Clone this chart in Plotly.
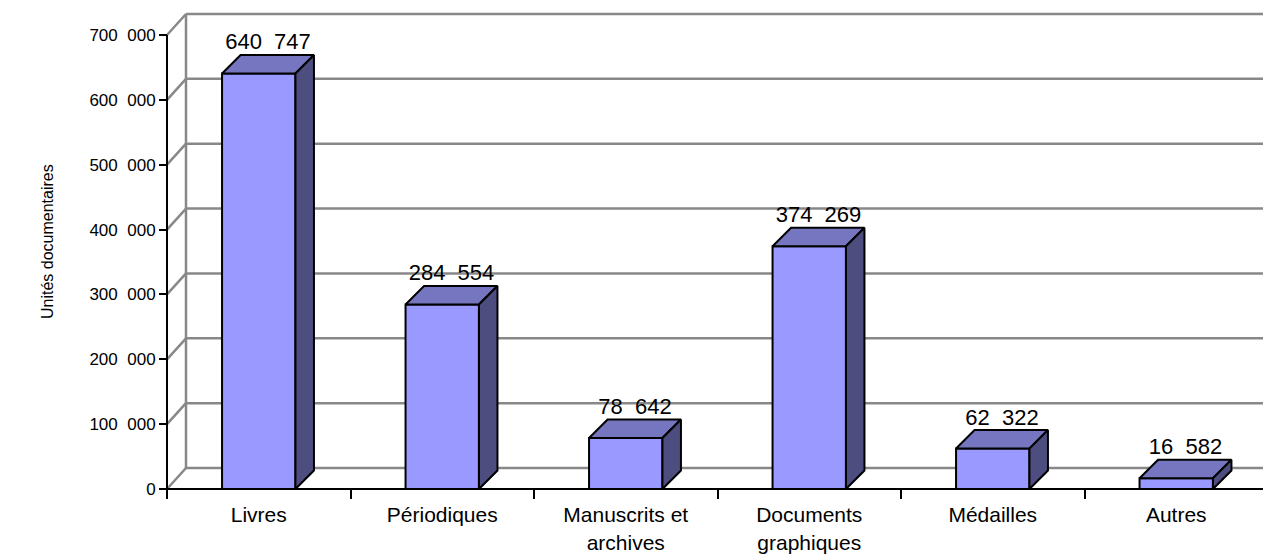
import plotly.graph_objects as go

# ---------------- data ----------------
categories = ["Livres", "Périodiques", "Manuscrits et archives",
              "Documents graphiques", "Médailles", "Autres"]
values = [640747, 284554, 78642, 374269, 62322, 16582]
y_ticks = [0, 100000, 200000, 300000, 400000, 500000, 600000, 700000]
y_title = "Unités documentaires"

# ---------------- styling / geometry constants ----------------
W, H = 1271, 557
PAGE_OFF = 8             # default body margin of the page
FONT = "Liberation Sans, Arial, Helvetica, sans-serif"
FRONT = "#9999FF"
TOP = "#7676C0"
SIDE = "#4D4D80"
GRID = "#888888"

X_AXIS_PX = 167 - PAGE_OFF   # pixel of front value axis
UNIT_PX = 183.5              # pixels per category
Y_ZERO_PX = 489 - PAGE_OFF   # pixel of value 0 on front plane
Y_SCALE = 454 / 700000       # pixels per unit value

PLOT_L, PLOT_R, PLOT_T, PLOT_B = 140, W, 0, 494

WALL_DX = 19 / UNIT_PX
WALL_DY = 21 / Y_SCALE
BAR_DX = 18.5 / UNIT_PX
BAR_DY = 18.5 / Y_SCALE
BAR_W = 0.4

x_min = -0.5 - (X_AXIS_PX - PLOT_L) / UNIT_PX
x_max = -0.5 + (PLOT_R - X_AXIS_PX) / UNIT_PX
y_min = -(PLOT_B - Y_ZERO_PX) / Y_SCALE
y_max = (Y_ZERO_PX - PLOT_T) / Y_SCALE


def fmt(v):
    return f"{v:,}".replace(",", "\u00a0\u00a0")


def wrap(s):
    parts = s.split(" ")
    if len(parts) > 1 and len(s) > 12:
        return " ".join(parts[:-1]) + "<br>" + parts[-1]
    return s


n = len(categories)
left_edge, right_edge = -0.5, n - 0.5
top_val = y_ticks[-1]

fig = go.Figure()


def lines(xs, ys, color, width):
    fig.add_trace(go.Scatter(x=xs, y=ys, mode="lines",
                             line=dict(color=color, width=width),
                             hoverinfo="skip", showlegend=False))


# back wall gridlines
gx, gy = [], []
for t in y_ticks:
    gx += [left_edge + WALL_DX, x_max + 1, None]
    gy += [t + WALL_DY, t + WALL_DY, None]
# side wall diagonals and vertical edge
for t in y_ticks:
    gx += [left_edge, left_edge + WALL_DX, None]
    gy += [t, t + WALL_DY, None]
gx += [left_edge + WALL_DX, left_edge + WALL_DX, None]
gy += [WALL_DY, top_val + WALL_DY, None]
lines(gx, gy, GRID, 2.5)

# front axes
lines([left_edge, left_edge, None, left_edge, right_edge, right_edge + WALL_DX],
      [top_val, 0, None, 0, 0, WALL_DY], "black", 2)

# bars
for i, v in enumerate(values):
    x0, x1 = i - BAR_W / 2, i + BAR_W / 2
    polys = [
        ([x0, x1, x1, x0, x0], [0, 0, v, v, 0], FRONT),
        ([x0, x0 + BAR_DX, x1 + BAR_DX, x1, x0], [v, v + BAR_DY, v + BAR_DY, v, v], TOP),
        ([x1, x1 + BAR_DX, x1 + BAR_DX, x1, x1], [0, BAR_DY, v + BAR_DY, v, 0], SIDE),
    ]
    for px, py, col in polys:
        fig.add_trace(go.Scatter(x=px, y=py, mode="lines", fill="toself",
                                 fillcolor=col,
                                 line=dict(color="black", width=2),
                                 hoverinfo="skip", showlegend=False))

# data labels
fig.add_trace(go.Scatter(
    x=[i + BAR_DX / 2 for i in range(n)],
    y=[v + BAR_DY for v in values],
    mode="text", text=[fmt(v) for v in values],
    textposition="top center",
    textfont=dict(family=FONT, size=22, color="black"),
    cliponaxis=False, hoverinfo="skip", showlegend=False))

fig.update_layout(
    width=W, height=H,
    margin=dict(l=0, r=0, t=0, b=0, autoexpand=False),
    paper_bgcolor="white", plot_bgcolor="white",
    hovermode=False,
    font=dict(family=FONT, color="black"),
    xaxis=dict(
        domain=[PLOT_L / W, PLOT_R / W],
        range=[x_min, x_max],
        anchor="free", position=(H - Y_ZERO_PX) / H,
        showgrid=False, zeroline=False, showline=False,
        tickmode="array", tickvals=list(range(n)),
        ticktext=[wrap(c) for c in categories],
        ticks="outside", ticklen=7, tickcolor="rgba(0,0,0,0)",
        tickfont=dict(family=FONT, size=21, color="black"),
        minor=dict(tickmode="array",
                   tickvals=[k - 0.5 for k in range(n + 1)],
                   ticks="outside", ticklen=9, tickwidth=2, tickcolor="black",
                   showgrid=False),
    ),
    yaxis=dict(
        domain=[(H - PLOT_B) / H, (H - PLOT_T) / H],
        range=[y_min, y_max],
        anchor="free", position=X_AXIS_PX / W,
        showgrid=False, zeroline=False, showline=False,
        tickmode="array", tickvals=y_ticks,
        ticktext=[fmt(t) for t in y_ticks],
        ticks="outside", ticklen=8, tickwidth=2, tickcolor="black",
        tickfont=dict(family=FONT, size=17, color="black"),
    ),
    annotations=[dict(
        text=y_title, textangle=-90, xref="paper", yref="paper",
        x=(47 - PAGE_OFF) / W, y=1 - (242 - PAGE_OFF) / H,
        xanchor="center", yanchor="middle",
        showarrow=False, font=dict(family=FONT, size=16, color="black"))],
)

fig.write_html("out.html")
